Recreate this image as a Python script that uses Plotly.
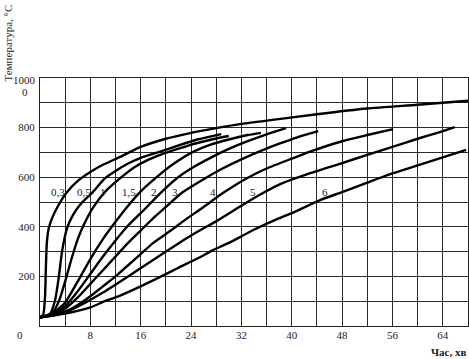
import plotly.graph_objects as go

# ---- data (time in minutes, temperature in °C) ----
t_03 = [0, 0.5, 0.8, 0.95, 1.1, 1.4, 2, 3, 4.3, 6, 8, 10, 13, 16, 20, 24, 28, 32, 36, 44, 52, 60, 68]
T_03 = [35, 45, 120, 250, 340, 395, 440, 490, 540, 585, 621, 650, 685, 722, 755, 779, 798, 815, 828, 854, 877, 892, 908]

t_05 = [0, 1.5, 2.4, 3, 3.5, 4.3, 5.3, 6.4, 8.4, 10.3, 12, 14, 16, 19.1, 22, 25, 28.8]
T_05 = [35, 45, 105, 200, 300, 395, 450, 490, 540, 595, 625, 655, 678, 703, 728, 752, 774]

t_1 = [0, 2, 3, 4, 5, 6, 7, 8.5, 10.3, 12.7, 15, 17, 19.1, 22, 25, 28, 30]
T_1 = [35, 55, 100, 180, 270, 350, 410, 480, 540, 595, 640, 668, 690, 715, 738, 756, 766]

t_15 = [0, 2, 4, 6, 8, 10, 12, 14, 15.9, 18.3, 21, 24.4, 27, 30, 33, 35.1]
T_15 = [35, 50, 95, 180, 270, 350, 420, 485, 540, 595, 650, 703, 730, 752, 770, 779]

t_2 = [0, 2, 4, 6, 8, 10, 12, 14, 16, 19.3, 21.7, 24, 27, 30, 33, 36, 39.1]
T_2 = [35, 48, 80, 140, 210, 280, 345, 405, 455, 540, 595, 635, 677, 714, 745, 773, 798]

t_3 = [0, 2, 4, 6, 8, 10, 12, 14, 16, 18, 20, 22.7, 26.2, 29, 32, 35, 38, 41, 44.2]
T_3 = [35, 45, 70, 115, 170, 225, 280, 335, 385, 435, 480, 540, 595, 635, 672, 705, 735, 762, 786]

t_4 = [0, 2, 4, 6, 8, 10, 12, 14, 16, 18, 20.9, 23, 26, 29, 32.8, 36, 40, 42.9, 48, 52, 56.1]
T_4 = [35, 42, 58, 85, 120, 160, 200, 245, 290, 335, 387, 427, 480, 535, 595, 635, 675, 703, 745, 770, 794]

t_5 = [0, 4, 7.6, 10, 14, 17, 20, 24, 28.3, 32, 35, 38, 42.9, 48, 52, 56, 60, 63, 65.9]
T_5 = [35, 55, 100, 135, 200, 250, 300, 365, 427, 485, 530, 570, 616, 657, 690, 722, 755, 778, 802]

t_6 = [0, 4, 8, 10.3, 12, 16, 19.1, 22, 25, 27.5, 30, 33.9, 37.3, 40, 44.5, 48, 52, 56.1, 60, 64, 67.7]
T_6 = [35, 50, 75, 100, 115, 160, 198, 235, 272, 306, 335, 387, 427, 455, 508, 540, 578, 616, 648, 680, 710]

curve_names = ["0,3", "0,5", "1", "1,5", "2", "3", "4", "5", "6"]
curve_t = [t_03, t_05, t_1, t_15, t_2, t_3, t_4, t_5, t_6]
curve_T = [T_03, T_05, T_1, T_15, T_2, T_3, T_4, T_5, T_6]

x_ticks = [8, 16, 24, 32, 40, 48, 56, 64]
x_grid = list(range(0, 69, 4))
y_ticks = [200, 400, 600, 800]
y_grid = list(range(0, 1001, 100))

# label anchor positions (minutes) along the 540 °C row
label_t = [2.86, 7.0, 10.0, 14.1, 18.1, 21.45, 27.5, 33.8, 45.3]
label_T = 540

FONT = "Liberation Serif, Times New Roman, serif"
GRID = "#2a2a2a"

fig = go.Figure()
for name, tt, TT in zip(curve_names, curve_t, curve_T):
    fig.add_trace(go.Scatter(x=tt, y=TT, mode="lines", name=name,
                             line=dict(color="black", width=2.4, shape="spline", smoothing=0.6),
                             showlegend=False, hoverinfo="skip"))

for name, lt in zip(curve_names, label_t):
    fig.add_annotation(x=lt, y=label_T, text=name, showarrow=False,
                       font=dict(family=FONT, size=11, color="#222"),
                       xanchor="center", yanchor="middle")

fig.add_annotation(xref="paper", yref="y", x=0, y=1000, xshift=-2, yshift=-2,
                   text="1000", showarrow=False, xanchor="right", yanchor="middle",
                   font=dict(family=FONT, size=11, color="#222"))
fig.add_annotation(xref="paper", yref="y", x=0, y=1000, xshift=-10, yshift=-14,
                   text="0", showarrow=False, xanchor="right", yanchor="middle",
                   font=dict(family=FONT, size=11, color="#222"))
fig.add_annotation(xref="paper", yref="y", x=0, y=0, xshift=-15, yshift=-9,
                   text="0", showarrow=False, xanchor="right", yanchor="middle",
                   font=dict(family=FONT, size=11, color="#222"))
fig.add_annotation(xref="paper", yref="paper", x=-0.0748, y=1.143,
                   text="Температура, °С", textangle=-90, showarrow=False,
                   xanchor="center", yanchor="middle",
                   font=dict(family=FONT, size=11, color="#222"))
fig.add_annotation(xref="paper", yref="paper", x=1, y=-0.105,
                   text="<b>Час, хв</b>", showarrow=False,
                   xanchor="right", yanchor="middle",
                   font=dict(family=FONT, size=11, color="#222"))

fig.update_xaxes(range=[0, 68], tickmode="array", tickvals=x_ticks,
                 showgrid=True, gridcolor=GRID, gridwidth=1, zeroline=False,
                 minor=dict(tickmode="array", tickvals=x_grid, showgrid=True,
                            gridcolor=GRID, gridwidth=1, ticks=""),
                 showline=True, linecolor="#222", linewidth=1, mirror=True,
                 ticks="", ticklabelstandoff=-1,
                 tickfont=dict(family=FONT, size=11, color="#222"))
fig.update_yaxes(range=[0, 1000], tickmode="array", tickvals=y_ticks,
                 showgrid=True, gridcolor=GRID, gridwidth=1, zeroline=False,
                 minor=dict(tickmode="array", tickvals=y_grid, showgrid=True,
                            gridcolor=GRID, gridwidth=1, ticks=""),
                 showline=True, linecolor="#222", linewidth=1, mirror=True,
                 ticks="", ticklabelstandoff=2,
                 tickfont=dict(family=FONT, size=11, color="#222"))

fig.update_layout(width=469, height=359, margin=dict(l=40, r=1, t=78, b=33),
                  plot_bgcolor="white", paper_bgcolor="white", template="none")

fig.write_html("out.html")
